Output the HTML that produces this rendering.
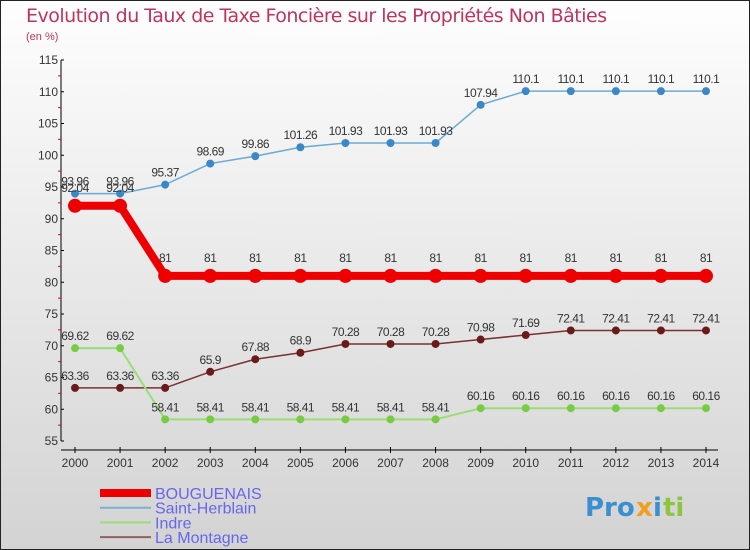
<!DOCTYPE html>
<html><head><meta charset="utf-8"><style>
body{margin:0;width:750px;height:550px;overflow:hidden}
svg{display:block;font-family:"Liberation Sans","DejaVu Sans",sans-serif}
</style></head><body>
<svg width="750" height="550" xmlns="http://www.w3.org/2000/svg">
<defs><linearGradient id="bg" x1="0" y1="0" x2="0" y2="1"><stop offset="0" stop-color="#fefefe"/><stop offset="1" stop-color="#d3d3d3"/></linearGradient></defs>
<rect x="0.5" y="0.5" width="749" height="549" fill="url(#bg)" stroke="#222"/>
<text x="26" y="22" font-size="19" fill="#c0335e" font-family="DejaVu Sans, sans-serif" style="letter-spacing:-0.5px">Evolution du Taux de Taxe Foncière sur les Propriétés Non Bâties</text>
<text x="26" y="40" font-size="11" fill="#c0335e">(en %)</text>
<g id="axes"></g><g id="plot"></g><g id="legend"></g>
<g font-size="26" font-weight="bold" font-family="DejaVu Sans, sans-serif">
<text x="585" y="516" fill="#3a8fd0">Pro</text><text x="636" y="516" fill="#f0a020">x</text><text x="653" y="516" fill="#3a8fd0">i</text><text x="663" y="516" fill="#8cc63f">ti</text>
</g>
</svg>
<script>
const years=[2000,2001,2002,2003,2004,2005,2006,2007,2008,2009,2010,2011,2012,2013,2014];
const bouguenais=[92.04,92.04,81,81,81,81,81,81,81,81,81,81,81,81,81];
const saintHerblain=[93.96,93.96,95.37,98.69,99.86,101.26,101.93,101.93,101.93,107.94,110.1,110.1,110.1,110.1,110.1];
const indre=[69.62,69.62,58.41,58.41,58.41,58.41,58.41,58.41,58.41,60.16,60.16,60.16,60.16,60.16,60.16];
const laMontagne=[63.36,63.36,63.36,65.9,67.88,68.9,70.28,70.28,70.28,70.98,71.69,72.41,72.41,72.41,72.41];
const yTicks=[55,60,65,70,75,80,85,90,95,100,105,110,115];
const NS="http://www.w3.org/2000/svg";
const X=i=>75+i*(706-75)/(years.length-1);
const Y=v=>441-(v-55)*(441-60)/60;
function mk(t,a,p){const e=document.createElementNS(NS,t);for(const k in a)e.setAttribute(k,a[k]);p.appendChild(e);return e;}
const ax=document.getElementById('axes'),pl=document.getElementById('plot'),lg=document.getElementById('legend');
let l=mk('line',{x1:61,y1:60,x2:61,y2:441,stroke:'#000'},ax);


l=mk('line',{x1:61,y1:450,x2:718,y2:450,stroke:'#000'},ax);


yTicks.forEach((v,i)=>{mk('line',{x1:61,y1:Y(v),x2:64,y2:Y(v),stroke:'#000'},ax);
 if(i<yTicks.length-1)mk('line',{x1:58,y1:Y(v+2.5),x2:61,y2:Y(v+2.5),stroke:'#e00'},ax);
 const t=mk('text',{x:58,y:Y(v)+4,'font-size':12,'text-anchor':'end',fill:'#333'},ax);t.textContent=v;
 
 });
years.forEach((y,i)=>{mk('line',{x1:X(i),y1:447,x2:X(i),y2:453,stroke:'#000'},ax);
 const t=mk('text',{x:X(i),y:467,'font-size':12,'text-anchor':'middle',fill:'#333'},ax);t.textContent=y;
 
 });
function series(d,col,dot,w,r,name,off){
 const g=mk('g',{},pl);
 
 
 mk('polyline',{points:d.map((v,i)=>X(i)+','+Y(v)).join(' '),fill:'none',stroke:col,'stroke-width':w},g);
 d.forEach((v,i)=>{const c=mk('circle',{cx:X(i),cy:Y(v),r:r,fill:dot},g);
  
  
  const t=mk('text',{x:X(i),y:Y(v)-off,'font-size':12,'text-anchor':'middle',fill:'#333','letter-spacing':'-0.5'},g);t.textContent=v;
  
  });
}
series(laMontagne,'#7a3030','#6a1a1a',1.5,4,'la-montagne',8);
series(indre,'#99dd77','#77cc44',2,4,'indre',8);
series(saintHerblain,'#6aaad8','#3a88c8',1.5,4,'saint-herblain',8);
series(bouguenais,'#ee0000','#ee0000',8,7,'bouguenais',14);
const legNames=['BOUGUENAIS','Saint-Herblain','Indre','La Montagne'];
const legCols=['#ee0000','#7ab0d0','#99dd77','#906060'];
const legW=[8,2,2,2];
legNames.forEach((n,i)=>{const y=493+i*14.7;
 const g=mk('g',{},lg);
 
 
 mk('line',{x1:100,y1:y,x2:151,y2:y,stroke:legCols[i],'stroke-width':legW[i]},g);
 const t=mk('text',{x:155,y:y+6,'font-size':16,fill:'#6666ee'},g);t.textContent=n;});
</script>
</body></html>
